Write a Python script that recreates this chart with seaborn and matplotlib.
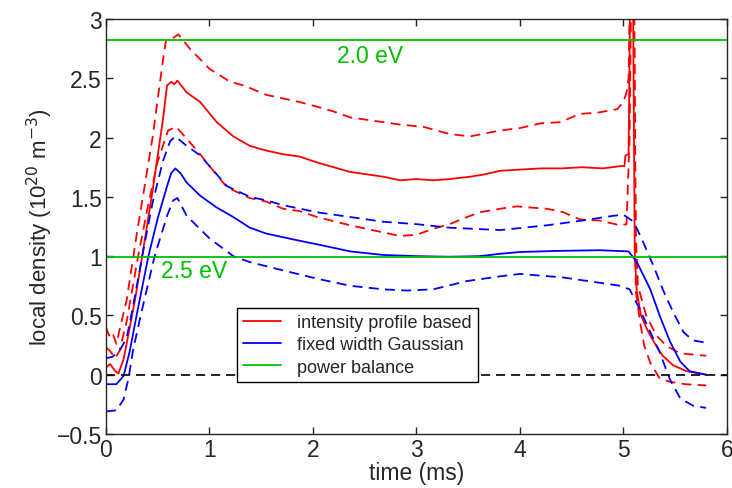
import numpy as np
import pandas as pd
import matplotlib
matplotlib.use("Agg")
import matplotlib.pyplot as plt
import seaborn as sns

# intensity profile based (red): centre and error bounds
int_mid_t = [0, 0.04, 0.09, 0.12, 0.17, 0.23, 0.28, 0.35, 0.45, 0.55, 0.59, 0.63, 0.66, 0.69,
             0.78, 0.91, 1.07, 1.23, 1.39, 1.55, 1.71, 1.87, 2.04, 2.2, 2.36, 2.52, 2.68, 2.84,
             3.0, 3.16, 3.32, 3.52, 3.66, 3.81, 4.0, 4.2, 4.4, 4.6, 4.8, 4.98, 5.01, 5.02, 5.05,
             5.07, 5.09, 5.11, 5.13, 5.17, 5.22, 5.26, 5.32, 5.38, 5.48, 5.61, 5.8]
int_mid = [0.06, 0.09, 0.03, 0.01, 0.13, 0.4, 0.63, 1.0, 1.55, 2.15, 2.44, 2.47, 2.45, 2.48,
           2.38, 2.3, 2.13, 2.01, 1.93, 1.89, 1.86, 1.84, 1.79, 1.75, 1.71, 1.69, 1.67, 1.64,
           1.65, 1.64, 1.65, 1.67, 1.69, 1.72, 1.73, 1.74, 1.74, 1.75, 1.74, 1.76, 1.76, 1.85, 1.86,
           3.6, 3.6, 1.0, 0.70, 0.5, 0.4, 0.33, 0.24, 0.16, 0.08, 0.03, 0.0]

int_hi_t = [0, 0.03, 0.06, 0.1, 0.15, 0.2, 0.3, 0.45, 0.55, 0.58, 0.63, 0.7, 0.81, 1.0, 1.2,
            1.33, 1.55, 1.71, 1.87, 2.04, 2.2, 2.36, 2.52, 2.68, 2.84, 3.07, 3.32, 3.52, 3.81,
            4.0, 4.2, 4.39, 4.58, 4.75, 4.94, 5.0, 5.03, 5.05, 5.07, 5.1, 5.12, 5.14, 5.22, 5.32,
            5.42, 5.55, 5.8]
int_hi = [0.4, 0.33, 0.36, 0.26, 0.45, 0.63, 1.2, 2.0, 2.65, 2.82, 2.83, 2.87, 2.75, 2.58, 2.47,
          2.44, 2.36, 2.33, 2.3, 2.26, 2.22, 2.17, 2.15, 2.13, 2.11, 2.09, 2.03, 2.01, 2.06,
          2.08, 2.12, 2.13, 2.2, 2.21, 2.24, 2.3, 2.38, 2.5, 3.6, 3.6, 1.2, 0.75, 0.5, 0.33,
          0.24, 0.18, 0.16]

int_lo_t = [0, 0.04, 0.09, 0.13, 0.2, 0.3, 0.4, 0.5, 0.6, 0.68, 0.78, 0.9, 1.0, 1.17, 1.39,
            1.55, 1.71, 1.87, 2.04, 2.36, 2.68, 2.84, 3.0, 3.16, 3.32, 3.49, 3.61, 3.81, 3.97,
            4.1, 4.26, 4.42, 4.58, 4.77, 4.97, 5.03, 5.06, 5.08, 5.1, 5.12, 5.16, 5.2, 5.26,
            5.35, 5.45, 5.6, 5.8]
int_lo = [0.23, 0.2, 0.14, 0.2, 0.45, 0.95, 1.4, 1.8, 2.06, 2.09, 1.99, 1.87, 1.76, 1.58, 1.49,
          1.46, 1.40, 1.38, 1.33, 1.26, 1.2, 1.17, 1.18, 1.23, 1.27, 1.33, 1.37, 1.40, 1.42,
          1.41, 1.40, 1.37, 1.31, 1.30, 1.26, 1.27, 2.0, 3.6, 3.6, 0.7, 0.45, 0.25, 0.1,
          -0.03, -0.06, -0.08, -0.09]

# fixed width Gaussian (blue)
gau_mid_t = [0, 0.1, 0.17, 0.23, 0.3, 0.41, 0.5, 0.59, 0.63, 0.67, 0.72, 0.78, 0.91, 1.07, 1.23,
             1.39, 1.55, 1.71, 1.87, 2.04, 2.36, 2.68, 3.0, 3.32, 3.61, 3.81, 4.0, 4.4, 4.77,
             5.05, 5.13, 5.26, 5.35, 5.45, 5.55, 5.64, 5.8]
gau_mid = [-0.08, -0.08, -0.01, 0.2, 0.52, 1.0, 1.32, 1.59, 1.70, 1.74, 1.70, 1.62, 1.51, 1.41,
           1.33, 1.24, 1.19, 1.16, 1.13, 1.10, 1.04, 1.01, 1.0, 0.995, 1.0, 1.02, 1.035, 1.045, 1.05,
           1.04, 0.95, 0.72, 0.5, 0.28, 0.11, 0.03, 0.0]

gau_hi_t = [0, 0.06, 0.13, 0.2, 0.26, 0.35, 0.45, 0.55, 0.62, 0.67, 0.78, 0.91, 1.0, 1.17, 1.39,
            1.55, 1.71, 2.04, 2.36, 2.68, 3.0, 3.32, 3.81, 4.26, 4.6, 4.9, 5.0, 5.1, 5.19, 5.29,
            5.38, 5.48, 5.58, 5.67, 5.8]
gau_hi = [0.14, 0.15, 0.2, 0.31, 0.57, 1.0, 1.45, 1.8, 1.97, 2.01, 1.93, 1.85, 1.76, 1.59, 1.50,
          1.47, 1.43, 1.37, 1.33, 1.29, 1.27, 1.24, 1.22, 1.26, 1.30, 1.34, 1.35, 1.29, 1.12,
          0.92, 0.72, 0.53, 0.36, 0.29, 0.27]

gau_lo_t = [0, 0.1, 0.17, 0.22, 0.26, 0.33, 0.47, 0.59, 0.65, 0.69, 0.78, 1.0, 1.23, 1.39, 1.71,
            2.04, 2.36, 2.68, 2.91, 3.16, 3.49, 3.81, 4.0, 4.42, 4.97, 5.06, 5.16, 5.26, 5.35,
            5.45, 5.55, 5.67, 5.8]
gau_lo = [-0.31, -0.3, -0.21, -0.02, 0.2, 0.48, 1.0, 1.34, 1.47, 1.49, 1.34, 1.15, 1.0, 0.95,
          0.88, 0.81, 0.75, 0.72, 0.71, 0.72, 0.79, 0.83, 0.85, 0.82, 0.75, 0.72, 0.55, 0.36,
          0.19, -0.04, -0.2, -0.26, -0.28]

# power balance levels
pb_levels = [2.82, 0.99]
pb_labels = ["2.0 eV", "2.5 eV"]
pb_label_pos = [(2.55, 2.69), (0.85, 0.875)]

legend_labels = ["intensity profile based", "fixed width Gaussian", "power balance"]

RED = "#ff0000"
BLUE = "#0000ff"
GREEN = "#00c000"
DASH = (0, (5.5, 3.5))

sns.set_style("ticks")
plt.rcParams["font.family"] = ["Liberation Sans", "DejaVu Sans"]
plt.rcParams["xtick.direction"] = "in"
plt.rcParams["ytick.direction"] = "in"
plt.rcParams["xtick.top"] = True
plt.rcParams["ytick.right"] = True

fig = plt.figure(figsize=(7.32, 4.89), dpi=100)
ax = fig.add_axes([0.1448, 0.1104, 0.8482, 0.8487])

series = [
    (int_mid_t, int_mid, RED, "-"),
    (int_hi_t, int_hi, RED, DASH),
    (int_lo_t, int_lo, RED, DASH),
    (gau_mid_t, gau_mid, BLUE, "-"),
    (gau_hi_t, gau_hi, BLUE, DASH),
    (gau_lo_t, gau_lo, BLUE, DASH),
]
for t, v, col, ls in series:
    df = pd.DataFrame({"t": t, "v": v})
    sns.lineplot(data=df, x="t", y="v", color=col, linestyle=ls, linewidth=1.3,
                 sort=False, estimator=None, ax=ax)

for lvl in pb_levels:
    ax.axhline(lvl, color=GREEN, linewidth=1.3)
for txt, (tx, ty) in zip(pb_labels, pb_label_pos):
    ax.text(tx, ty, txt, color=GREEN, fontsize=16.5, ha="center", va="center")

ax.axhline(0, color="black", linestyle=DASH, linewidth=1.2)

ax.set_xlim(0, 6)
ax.set_ylim(-0.5, 3)
ax.set_xticks(np.arange(0, 7, 1))
ax.set_yticks(np.arange(-0.5, 3.01, 0.5))
ax.set_yticklabels(["\u22120.5", "0", "0.5", "1", "1.5", "2", "2.5", "3"])
ax.tick_params(labelsize=16.5, length=5, width=1, pad=3)
for sp in ax.spines.values():
    sp.set_visible(True)
    sp.set_linewidth(1)
ax.set_xlabel("time (ms)", fontsize=16.5, labelpad=0)
ax.set_ylabel("local density (10$^{20}$ m$^{-3}$)", fontsize=16, labelpad=1)

handles = [plt.Line2D([], [], color=c, linewidth=1.3) for c in (RED, BLUE, GREEN)]
leg = ax.legend(handles, legend_labels, loc="lower left", bbox_to_anchor=(0.211, 0.125),
                fontsize=13, frameon=True, fancybox=False, framealpha=1,
                edgecolor="black", handlelength=2.1, handletextpad=0.9,
                borderpad=0.35, labelspacing=0.3, borderaxespad=0)
leg.get_frame().set_linewidth(1)

fig.savefig("out.png", dpi=100)
